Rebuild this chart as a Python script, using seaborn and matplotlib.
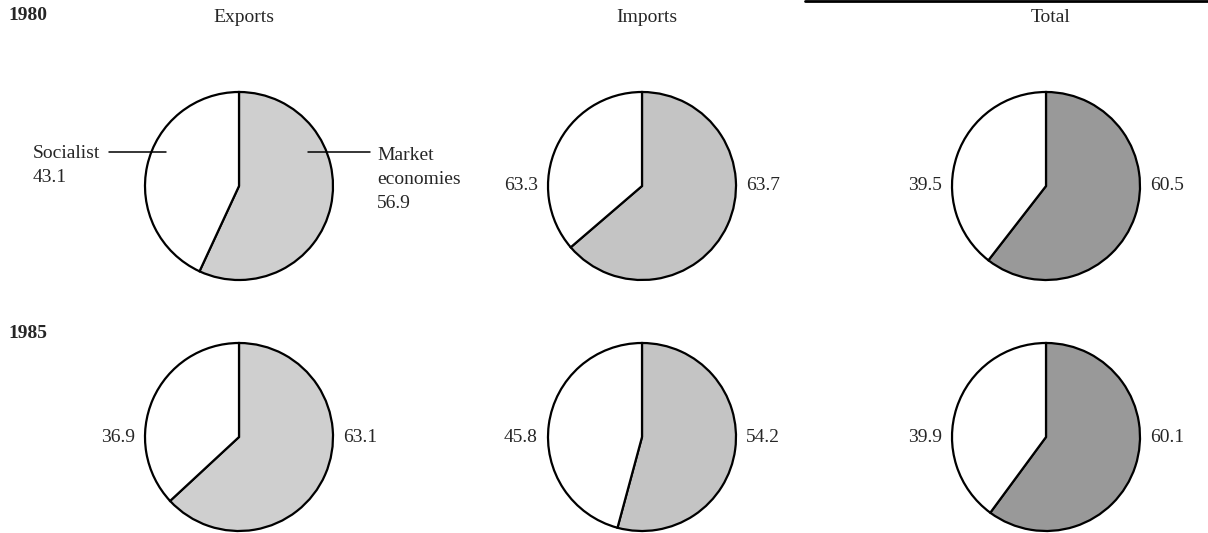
import matplotlib.pyplot as plt
import seaborn as sns

# shares of trade (%), market economies vs socialist countries
YEARS = ["1980", "1985"]
FLOWS = ["Exports", "Imports", "Total"]
market_1980 = [56.9, 63.7, 60.5]
socialist_1980 = [43.1, 36.3, 39.5]
market_1985 = [63.1, 54.2, 60.1]
socialist_1985 = [36.9, 45.8, 39.9]
# labels as printed in the source (the 1980 imports label reads 63.3)
left_labels_1980 = ["43.1", "63.3", "39.5"]
right_labels_1980 = ["56.9", "63.7", "60.5"]
left_labels_1985 = ["36.9", "45.8", "39.9"]
right_labels_1985 = ["63.1", "54.2", "60.1"]

W, H = 1208, 533
CENTERS_X = [239, 642, 1046]
CENTERS_Y = [186, 437]
RADIUS = 94
SHADES = ["#cfcfcf", "#c4c4c4", "#999999"]

sns.set_theme(style="white")
plt.rcParams["font.family"] = ["Liberation Serif", "DejaVu Serif"]
FS = 14

fig = plt.figure(figsize=(W / 100, H / 100), dpi=100)
ax = fig.add_axes([0, 0, 1, 1])


def Y(y):
    return H - y


rows = [
    (market_1980, socialist_1980, left_labels_1980, right_labels_1980),
    (market_1985, socialist_1985, left_labels_1985, right_labels_1985),
]

for r, (market, social, llab, rlab) in enumerate(rows):
    cy = CENTERS_Y[r]
    for c in range(3):
        cx = CENTERS_X[c]
        ax.pie(
            [market[c], social[c]],
            colors=[SHADES[c], "white"],
            startangle=90,
            counterclock=False,
            center=(cx, Y(cy)),
            radius=RADIUS,
            frame=True,
            wedgeprops=dict(edgecolor="black", linewidth=1.6),
        )
        if r == 0 and c == 0:
            continue
        ax.text(cx - RADIUS - 10, Y(cy), llab[c], ha="right", va="center", fontsize=FS)
        ax.text(cx + RADIUS + 10, Y(cy), rlab[c], ha="left", va="center", fontsize=FS)

# annotated first pie
ax.text(33, Y(153), "Socialist", ha="left", va="center", fontsize=FS)
ax.text(33, Y(177), "43.1", ha="left", va="center", fontsize=FS)
ax.plot([109, 166], [Y(152), Y(152)], color="black", lw=1.1)
ax.text(377, Y(155), "Market", ha="left", va="center", fontsize=FS)
ax.text(377, Y(179), "economies", ha="left", va="center", fontsize=FS)
ax.text(377, Y(203), "56.9", ha="left", va="center", fontsize=FS)
ax.plot([308, 370], [Y(152), Y(152)], color="black", lw=1.1)

# column and row headers
for c, name in enumerate(FLOWS):
    ax.text(CENTERS_X[c] + 5, Y(18), name, ha="center", va="center", fontsize=FS)
ax.text(8, Y(16), YEARS[0], ha="left", va="center", fontsize=FS, fontweight="bold")
ax.text(8, Y(333), YEARS[1], ha="left", va="center", fontsize=FS, fontweight="bold")

# rule along the top right edge
ax.plot([805, W], [Y(1), Y(1)], color="black", lw=2)

ax.set_xlim(0, W)
ax.set_ylim(0, H)
ax.set_aspect("equal")
ax.axis("off")

fig.savefig("out.png", dpi=100, facecolor="white")
